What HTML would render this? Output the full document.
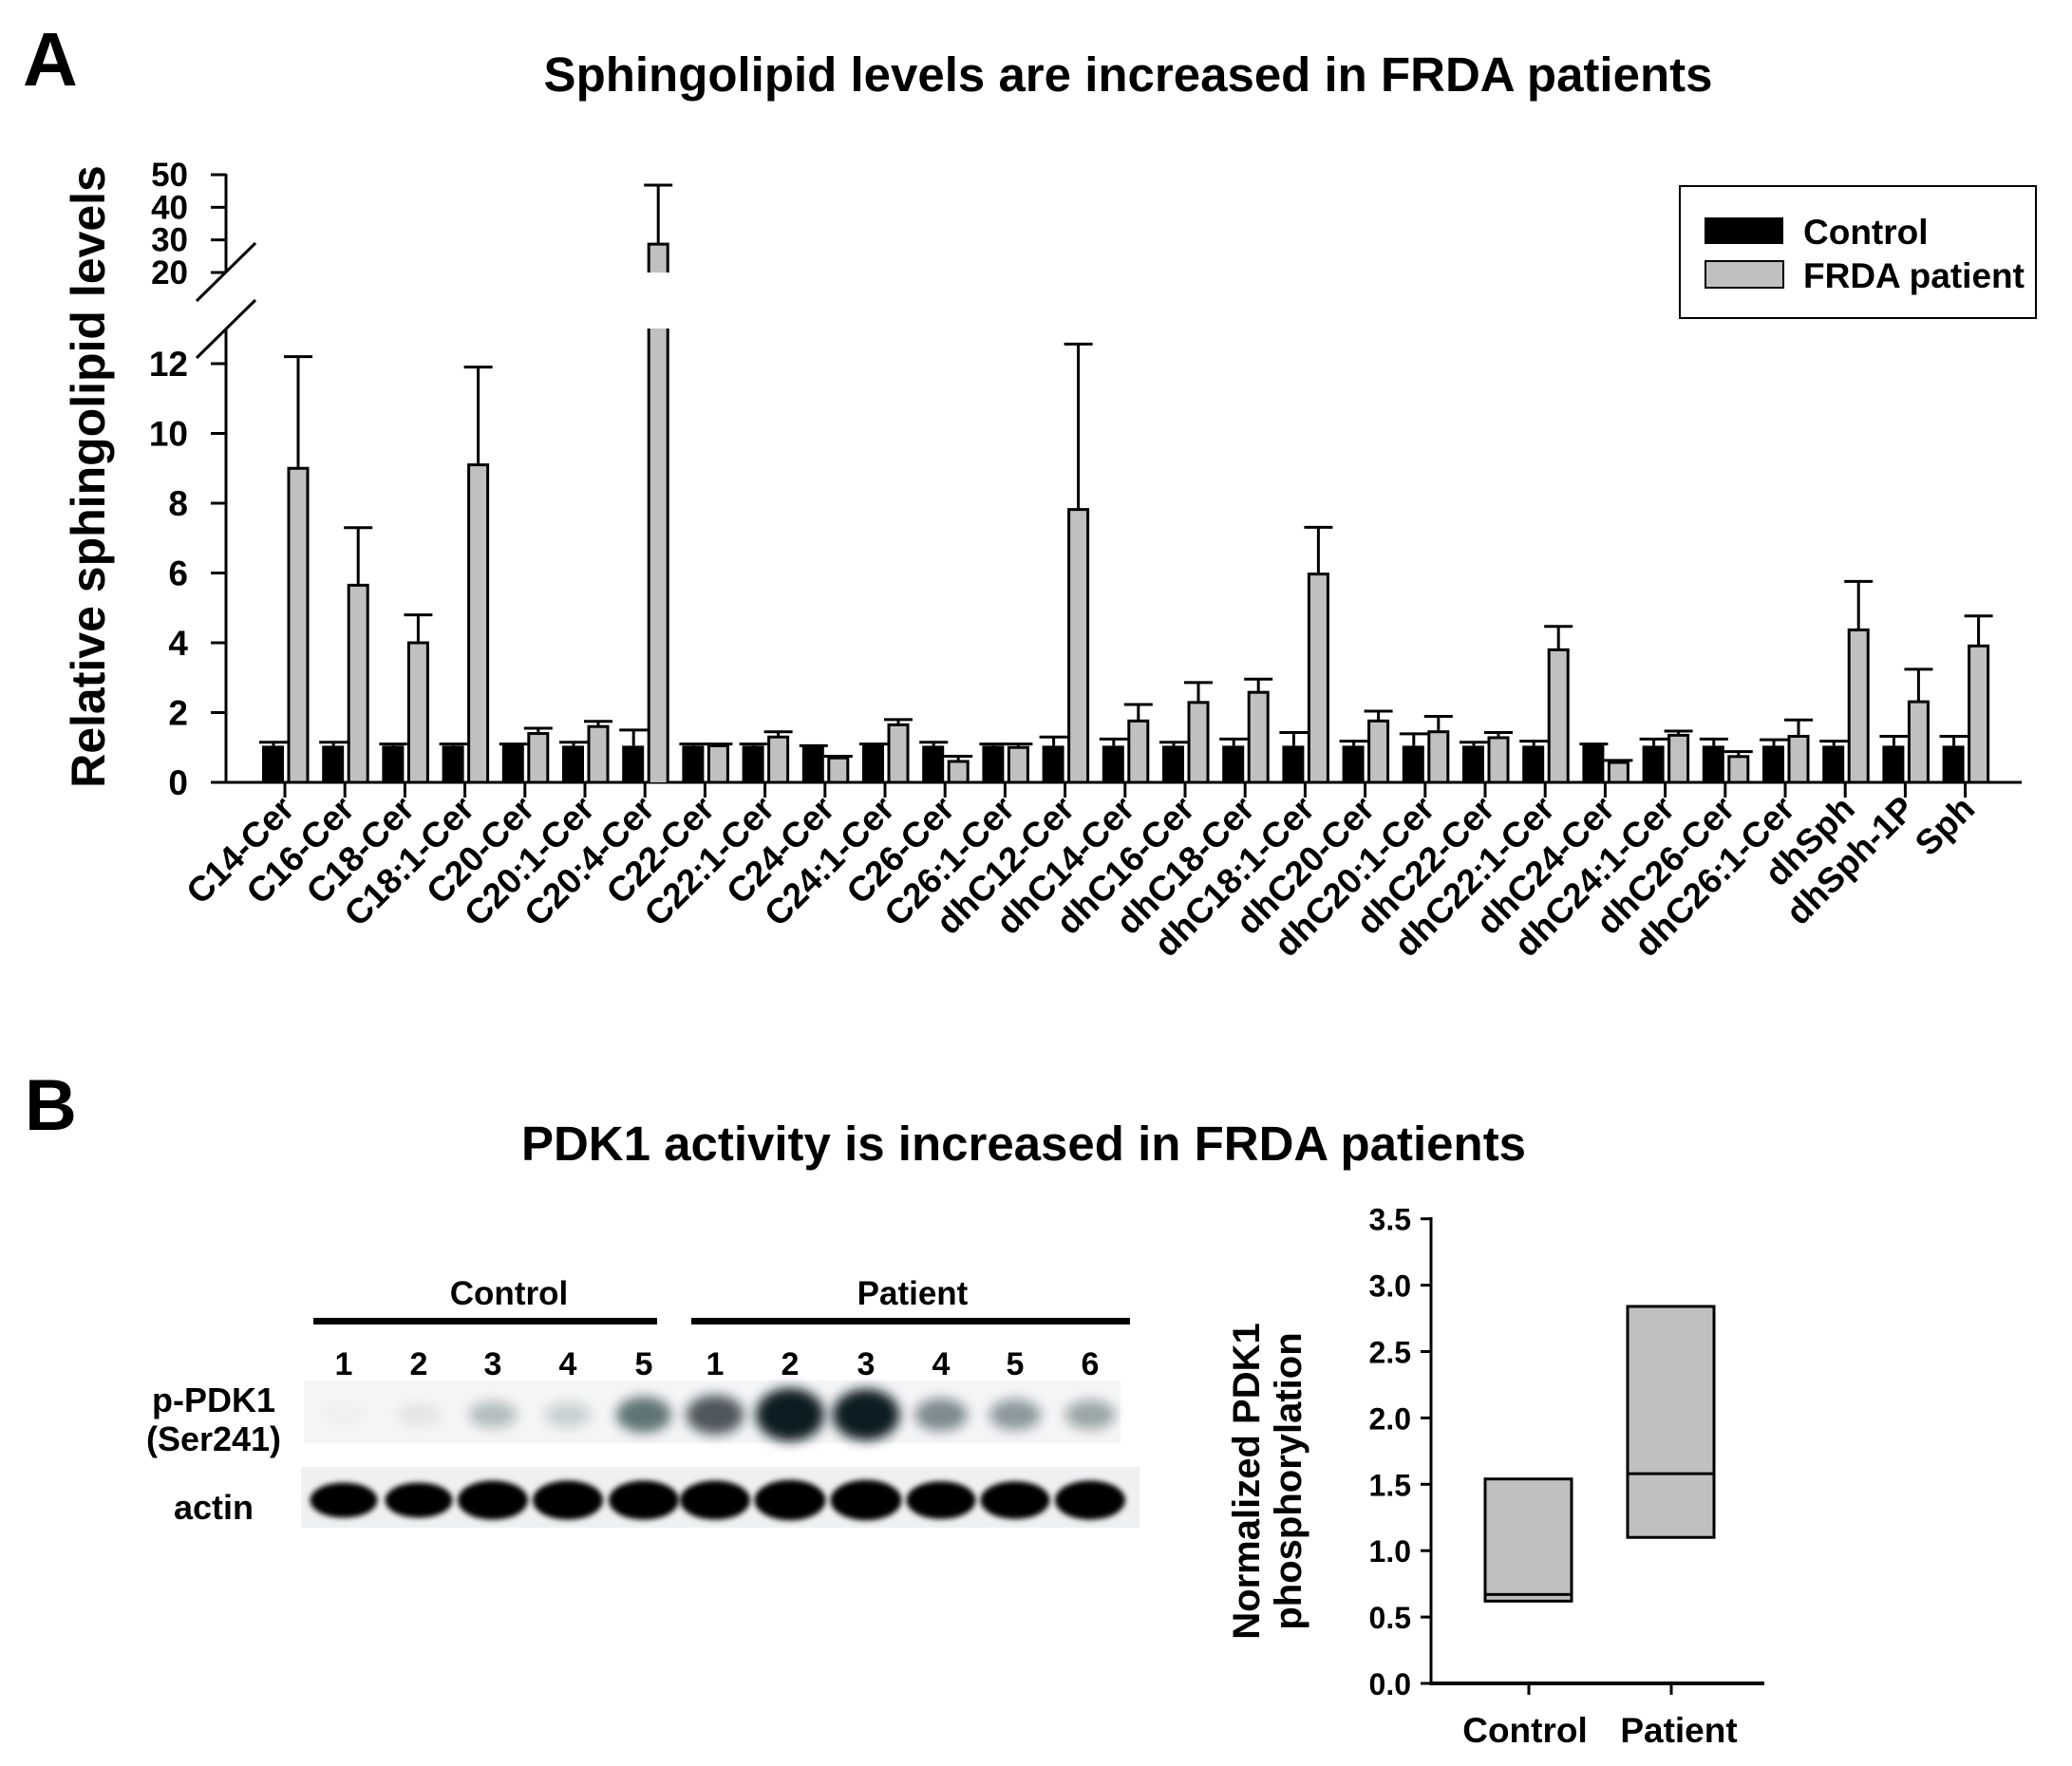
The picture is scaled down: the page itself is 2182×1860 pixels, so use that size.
<!DOCTYPE html>
<html><head><meta charset="utf-8"><style>
html,body{margin:0;padding:0;background:#fff}
svg{display:block;font-family:"Liberation Sans",Arial,sans-serif;font-weight:bold}
</style></head><body>
<svg id="fig" width="2182" height="1860" viewBox="0 0 2182 1860" xmlns="http://www.w3.org/2000/svg">
<defs>
<filter id="blur4" x="-50%" y="-50%" width="200%" height="200%"><feGaussianBlur stdDeviation="6"/></filter>
<filter id="blur2" x="-50%" y="-50%" width="200%" height="200%"><feGaussianBlur stdDeviation="3"/></filter>
</defs>
<text x="24" y="90" font-size="80">A</text>
<text x="1188" y="96" font-size="51" text-anchor="middle">Sphingolipid levels are increased in FRDA patients</text>
<text transform="translate(110,502) rotate(-90)" font-size="50" text-anchor="middle">Relative sphingolipid levels</text>
<g id="chartA"></g>
<g>
<rect x="1769" y="196" width="375" height="139" fill="#fff" stroke="#000" stroke-width="2"/>
<rect x="1795" y="229" width="83" height="28" fill="#000"/>
<text x="1899" y="257" font-size="37">Control</text>
<rect x="1796" y="275" width="82" height="28" fill="#c0c0c0" stroke="#000" stroke-width="2"/>
<text x="1899" y="303" font-size="37">FRDA patient</text>
</g>

<text x="26" y="1190" font-size="76">B</text>
<text x="1078" y="1222" font-size="51" text-anchor="middle">PDK1 activity is increased in FRDA patients</text>
<g id="blot"></g>
<g id="chartB"></g>
</svg>
<script>
const NS="http://www.w3.org/2000/svg";
function mk(tag,attrs,parent,txt){const e=document.createElementNS(NS,tag);for(const k in attrs)e.setAttribute(k,attrs[k]);if(txt!==undefined)e.textContent=txt;parent.appendChild(e);return e;}
// ---- Panel A data ----
const categories=["C14-Cer","C16-Cer","C18-Cer","C18:1-Cer","C20-Cer","C20:1-Cer","C20:4-Cer","C22-Cer","C22:1-Cer","C24-Cer","C24:1-Cer","C26-Cer","C26:1-Cer","dhC12-Cer","dhC14-Cer","dhC16-Cer","dhC18-Cer","dhC18:1-Cer","dhC20-Cer","dhC20:1-Cer","dhC22-Cer","dhC22:1-Cer","dhC24-Cer","dhC24:1-Cer","dhC26-Cer","dhC26:1-Cer","dhSph","dhSph-1P","Sph"];
const controlVals=[1.05,1.05,1.05,1.05,1.1,1.05,1.05,1.05,1.05,1.05,1.1,1.05,1.05,1.05,1.05,1.05,1.05,1.05,1.05,1.05,1.05,1.05,1.1,1.05,1.05,1.05,1.05,1.05,1.05];
const controlErr=[1.15,1.15,1.1,1.1,1.1,1.15,1.5,1.1,1.1,1.05,1.1,1.15,1.1,1.3,1.24,1.15,1.24,1.43,1.18,1.39,1.15,1.18,1.1,1.24,1.24,1.22,1.18,1.32,1.32];
const patientVals=[9.0,5.65,4.0,9.1,1.4,1.6,28.7,1.05,1.3,0.7,1.65,0.6,1.0,7.82,1.76,2.29,2.58,5.97,1.76,1.45,1.28,3.8,0.57,1.35,0.74,1.32,4.37,2.31,3.91];
const patientErr=[12.2,7.3,4.8,11.9,1.55,1.75,46.8,1.1,1.45,0.75,1.8,0.75,1.1,12.56,2.23,2.86,2.96,7.31,2.04,1.89,1.43,4.47,0.63,1.47,0.88,1.79,5.76,3.24,4.77];
const lowTicks=[0,2,4,6,8,10,12];
const highTicks=[20,30,40,50];
// ---- Panel B data ----
const groups=["Control","Patient"];
const boxLow=[0.62,1.1];
const boxMed=[0.67,1.58];
const boxHigh=[1.54,2.84];
const bTicks=["0.0","0.5","1.0","1.5","2.0","2.5","3.0","3.5"];
const laneLabels=["1","2","3","4","5","1","2","3","4","5","6"];
const pBand=[0.02,0.06,0.22,0.15,0.5,0.6,1.0,0.95,0.4,0.35,0.3];
const actinBand=[0.75,0.75,0.9,0.9,0.9,0.9,0.95,0.95,0.85,0.85,0.9];

// ---- Panel A drawing ----
(function(){
const g=document.getElementById('chartA');
const y=v=>824-v*36.75;
const yU=v=>184+(50-v)*3.433;
const BREAK=13;
const x=i=>300+i*63.2;
const ax=mk('line',{x1:238,y1:824,x2:2129,y2:824,stroke:'#000','stroke-width':3},g);

const ayl=mk('line',{x1:238,y1:346,x2:238,y2:825,stroke:'#000','stroke-width':3},g);

const ayu=mk('line',{x1:238,y1:183,x2:238,y2:286,stroke:'#000','stroke-width':3},g);

const bm1=mk('line',{x1:269,y1:256,x2:207,y2:317,stroke:'#000','stroke-width':3},g);

const bm2=mk('line',{x1:269,y1:316,x2:207,y2:377,stroke:'#000','stroke-width':3},g);

lowTicks.forEach(t=>{
 const l=mk('line',{x1:222,y1:y(t),x2:238,y2:y(t),stroke:'#000','stroke-width':3},g);
 
 const tx=mk('text',{x:198,y:y(t)+13,'font-size':37,'text-anchor':'end'},g,String(t));
 
});
highTicks.forEach(t=>{
 const l=mk('line',{x1:222,y1:yU(t),x2:238,y2:yU(t),stroke:'#000','stroke-width':3},g);
 
 const tx=mk('text',{x:198,y:yU(t)+12,'font-size':35,'text-anchor':'end'},g,String(t));
 
});
categories.forEach((c,i)=>{
 const cx=x(i);
 const t=mk('line',{x1:cx,y1:824,x2:cx,y2:840,stroke:'#000','stroke-width':3},g);
 
 const ce=mk('path',{d:`M${cx-12} ${y(controlVals[i])} V${y(controlErr[i])} M${cx-27} ${y(controlErr[i])} H${cx+3}`,stroke:'#000','stroke-width':3,fill:'none'},g);
 
 const cb=mk('rect',{x:cx-24,y:y(controlVals[i]),width:23,height:824-y(controlVals[i]),fill:'#000'},g);
 
 const pv=patientVals[i],pe=patientErr[i];
 const px=cx+4,pw=20;
 if(pv>BREAK){
  const top=yU(pv),et=yU(pe);
  const e=mk('path',{d:`M${px+pw/2} ${top} V${et} M${px-5} ${et} H${px+pw+5}`,stroke:'#000','stroke-width':3,fill:'none'},g);
  
  const b1=mk('rect',{x:px,y:top,width:pw,height:287-top,fill:'#c0c0c0'},g);
  
  const o1=mk('path',{d:`M${px} 287 V${top} H${px+pw} V287`,stroke:'#000','stroke-width':3,fill:'none'},g);
  
  const b2=mk('rect',{x:px,y:346,width:pw,height:478,fill:'#c0c0c0'},g);
  
  const o2=mk('path',{d:`M${px} 824 V346 M${px+pw} 346 V824`,stroke:'#000','stroke-width':3,fill:'none'},g);
  
 } else {
  const e=mk('path',{d:`M${px+pw/2} ${y(pv)} V${y(pe)} M${px-5} ${y(pe)} H${px+pw+5}`,stroke:'#000','stroke-width':3,fill:'none'},g);
  
  const b=mk('rect',{x:px,y:y(pv),width:pw,height:824-y(pv),fill:'#c0c0c0',stroke:'#000','stroke-width':3},g);
  
 }
 const lab=mk('text',{transform:`translate(${cx+12},854) rotate(-45)`,'font-size':37,'text-anchor':'end'},g,c);
 
});
})();

// ---- Western blot ----
(function(){
const g=document.getElementById('blot');
const laneX=[362,441,519,598,678,753,832,912,991,1069,1148];
const t1=mk('text',{x:536,y:1374,'font-size':35,'text-anchor':'middle'},g,'Control');

const t2=mk('text',{x:961,y:1374,'font-size':35,'text-anchor':'middle'},g,'Patient');

const r1=mk('rect',{x:330,y:1388,width:362,height:7,fill:'#000'},g);

const r2=mk('rect',{x:728,y:1388,width:462,height:7,fill:'#000'},g);

laneLabels.forEach((l,i)=>{
 const t=mk('text',{x:laneX[i],y:1448,'font-size':34,'text-anchor':'middle'},g,l);
 
});
[['p-PDK1',1487],['(Ser241)',1528],['actin',1600]].forEach(([s,yy])=>{
 const t=mk('text',{x:225,y:yy,'font-size':36,'text-anchor':'middle'},g,s);
 
});
const bg1=mk('rect',{x:320,y:1454,width:860,height:66,fill:'#f3f5f6'},g);

const bg2=mk('rect',{x:317,y:1545,width:883,height:64,fill:'#eef0f1'},g);

pBand.forEach((v,i)=>{
 const e=mk('ellipse',{cx:laneX[i],cy:1490,rx:22+v*14,ry:10+v*18,fill:'#0a1a22','fill-opacity':Math.min(1,v*1.2),filter:'url(#blur4)'},g);
 
});
actinBand.forEach((v,i)=>{
 const e=mk('ellipse',{cx:laneX[i],cy:1580,rx:28+v*10,ry:8+v*14,fill:'#050505',filter:'url(#blur2)'},g);
 
});
})();

// ---- Panel B chart ----
(function(){
const g=document.getElementById('chartB');
const y=v=>1773-v*139.8;
const gx=[1610,1760];
const ax=mk('line',{x1:1507,y1:1773,x2:1858,y2:1773,stroke:'#000','stroke-width':4},g);

const ay=mk('line',{x1:1507,y1:1282,x2:1507,y2:1775,stroke:'#000','stroke-width':3},g);

bTicks.forEach(t=>{
 const v=parseFloat(t);
 const l=mk('line',{x1:1496,y1:y(v),x2:1507,y2:y(v),stroke:'#000','stroke-width':3},g);
 
 const tx=mk('text',{x:1486,y:y(v)+12,'font-size':32,'text-anchor':'end'},g,t);
 
});
groups.forEach((gr,i)=>{
 const l=mk('line',{x1:gx[i],y1:1773,x2:gx[i],y2:1785,stroke:'#000','stroke-width':3},g);
 
 const b=mk('rect',{x:gx[i]-46,y:y(boxHigh[i]),width:91,height:y(boxLow[i])-y(boxHigh[i]),fill:'#c0c0c0',stroke:'#000','stroke-width':3},g);
 
 const m=mk('line',{x1:gx[i]-46,y1:y(boxMed[i]),x2:gx[i]+45,y2:y(boxMed[i]),stroke:'#000','stroke-width':3},g);
 
 const tx=mk('text',{x:gx[i]+(i===0?-4:8),y:1835,'font-size':37,'text-anchor':'middle'},g,gr);
 
});
const t1=mk('text',{transform:'translate(1326,1560) rotate(-90)','font-size':40,'text-anchor':'middle'},g,'Normalized PDK1');

const t2=mk('text',{transform:'translate(1370,1560) rotate(-90)','font-size':40,'text-anchor':'middle'},g,'phosphorylation');

})();
</script>
</body></html>
